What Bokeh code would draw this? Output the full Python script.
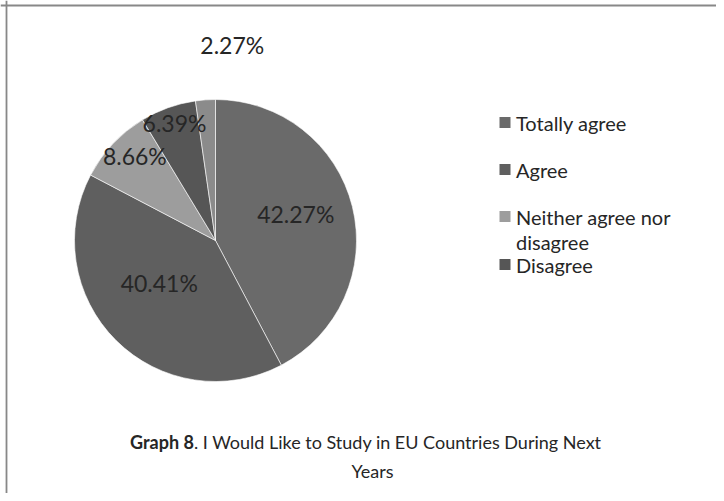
import math
from bokeh.plotting import figure
from bokeh.models import Range1d, Span
from bokeh.core.properties import value
from bokeh.embed import file_html
from bokeh.resources import INLINE

# ---- data ----
categories = ["Totally agree", "Agree", "Neither agree nor disagree", "Disagree", "Totally disagree"]
percentages = [42.27, 40.41, 8.66, 6.39, 2.27]
slice_colors = ["#6a6a6a", "#5f5f5f", "#9d9d9d", "#565656", "#8b8b8b"]
legend_shown = 4  # the reference legend only shows the first four entries
legend_lines = {"Neither agree nor disagree": ["Neither agree nor", "disagree"]}
title_bold = "Graph 8"
title_rest = ". I Would Like to Study in EU Countries During Next"
title_line2 = "Years"

FONT = "Lato"
W, H = 716, 493
TXT = "#262626"

p = figure(width=W, height=H, output_backend="svg", toolbar_location=None,
           x_range=Range1d(0, W), y_range=Range1d(501 - H, 501), min_border=0)
p.axis.visible = False
p.grid.visible = False
p.outline_line_color = None
p.background_fill_color = "white"
p.border_fill_color = "white"


def sy(y):
    # reference-picture y -> data y
    return 501 - y


# frame lines (top and left only, the rest is cropped in the reference)
p.add_layout(Span(location=sy(5), dimension="width", line_color="#888888", line_width=1.8))
p.add_layout(Span(location=6, dimension="height", line_color="#888888", line_width=1.8))

# ---- pie ----
cx, cy, R = 215, sy(240), 141
total = sum(percentages)
starts, ends, mids = [], [], []
cum = 0.0
for v in percentages:
    a0 = math.pi / 2 - 2 * math.pi * cum / total
    cum += v
    a1 = math.pi / 2 - 2 * math.pi * cum / total
    starts.append(a0)
    ends.append(a1)
    mids.append((a0 + a1) / 2)

p.wedge(x=[cx] * len(percentages), y=[cy] * len(percentages), radius=R,
        start_angle=starts, end_angle=ends, direction="clock",
        fill_color=slice_colors, line_color="white", line_width=0.6)

# label placement (layout): radial fraction and angle nudge per slice
label_r = [0.60, 0.50, 0.83, 0.88, 1.39]
label_nudge_deg = [4.5, -8.0, -3.2, -0.4, -9.0]
lx, ly, lt = [], [], []
for v, m, rf, nd in zip(percentages, mids, label_r, label_nudge_deg):
    a = m + math.radians(nd)
    lx.append(cx + rf * R * math.cos(a))
    ly.append(cy + rf * R * math.sin(a))
    lt.append(f"{v:.2f}%")
p.text(x=lx, y=ly, text=lt, text_font=value(FONT), text_font_size="23px",
       text_color=TXT, text_align="center", text_baseline="middle")

# ---- legend ----
sq_x, sq_size = 504.5, 11
leg_y = [122, 169, 216, 264]
for i in range(legend_shown):
    name = categories[i]
    lines = legend_lines.get(name, [name])
    p.rect(x=[sq_x], y=[sy(leg_y[i])], width=sq_size, height=sq_size,
           fill_color=slice_colors[i], line_color=None)
    for k, line in enumerate(lines):
        p.text(x=[sq_x + 11], y=[sy(leg_y[i] + 25 * k)], text=[line],
               text_font=value(FONT), text_font_size="20px", text_color=TXT,
               text_align="left", text_baseline="middle")

# ---- caption ----
cap_size = 18
bold_w = 59 * cap_size / 17.0
rest_w = 385 * cap_size / 17.0
line_center = 366
split_x = line_center - (bold_w + rest_w) / 2 + bold_w
p.text(x=[split_x], y=[sy(441)], text=[title_bold], text_font=value(FONT),
       text_font_size=f"{cap_size}px", text_font_style="bold", text_color=TXT,
       text_align="right", text_baseline="middle")
p.text(x=[split_x], y=[sy(441)], text=[title_rest], text_font=value(FONT),
       text_font_size=f"{cap_size}px", text_color=TXT,
       text_align="left", text_baseline="middle")
p.text(x=[372], y=[sy(470)], text=[title_line2], text_font=value(FONT),
       text_font_size=f"{cap_size}px", text_color=TXT,
       text_align="center", text_baseline="middle")

open("out.html", "w").write(file_html(p, INLINE))
